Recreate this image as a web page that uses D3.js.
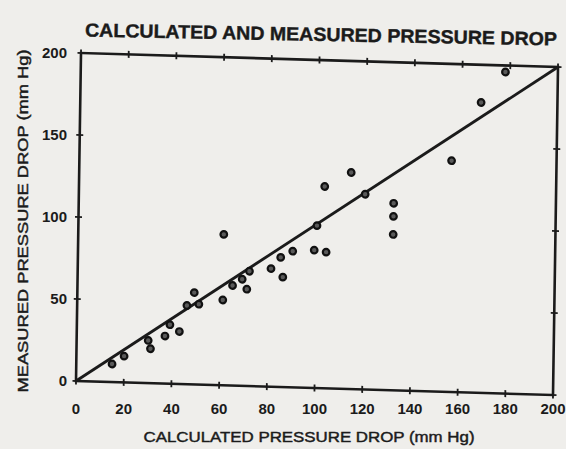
<!DOCTYPE html>
<html>
<head>
<meta charset="utf-8">
<script src="https://cdn.jsdelivr.net/npm/d3@7"></script>
<style>
  body { margin: 0; background: #efeeeb; }
  text { font-family: "Liberation Sans", Arial, sans-serif; fill: #1b1b1b; }
</style>
</head>
<body>
<div id="chart"></div>
<script>
// Calculated vs measured pressure drop (mm Hg)
const calculated = [178, 168, 114, 103, 156, 120, 132, 132, 132, 99, 104, 100, 61, 90, 85, 81, 86, 72, 69, 71, 65, 61, 49, 46, 51, 39, 43, 37, 30, 31, 20, 15];
const measured   = [196, 177, 132, 123, 141, 119, 114, 106, 95, 84, 83, 99, 92, 83, 79, 72, 67, 70, 65, 59, 61, 52, 56, 48, 49, 36, 32, 29, 26, 21, 16, 11];
const xTicks = [0, 20, 40, 60, 80, 100, 120, 140, 160, 180, 200];
const yTicks = [0, 50, 100, 150, 200];

const W = 566, H = 449;
const plotW = 477, plotH = 328;

// the scanned plot is slightly skewed: map inner plot coords to the page
const M = { a: 1, b: 0.02935, c: -0.01524, d: 1, e: 81, f: 53 };
const toPage = (u, v) => [M.e + M.a * u + M.c * v, M.f + M.b * u + M.d * v];

const svg = d3.select('#chart')
  .append('svg')
  .attr('width', W)
  .attr('height', H);

svg.append('rect')
  .attr('width', W)
  .attr('height', H)
  .attr('fill', '#efeeeb');

const x = d3.scaleLinear().domain([0, 200]).range([0, plotW]);
const y = d3.scaleLinear().domain([0, 200]).range([plotH, 0]);

const plot = svg.append('g')
  .attr('transform', `matrix(${M.a},${M.b},${M.c},${M.d},${M.e},${M.f})`);

// frame
plot.append('rect')
  .attr('x', 0)
  .attr('y', 0)
  .attr('width', plotW)
  .attr('height', plotH)
  .attr('fill', 'none')
  .attr('stroke', '#1b1b1b')
  .attr('stroke-width', 2.6);

// cross-shaped tick marks on all four sides
const tk = 3.5;
plot.selectAll('.xt-bottom')
  .data(xTicks)
  .enter()
  .append('line')
  .attr('x1', d => x(d)).attr('x2', d => x(d))
  .attr('y1', plotH - tk).attr('y2', plotH + tk);
plot.selectAll('.xt-top')
  .data(xTicks)
  .enter()
  .append('line')
  .attr('x1', d => x(d)).attr('x2', d => x(d))
  .attr('y1', -tk).attr('y2', tk);
plot.selectAll('.yt-left')
  .data(yTicks)
  .enter()
  .append('line')
  .attr('x1', -tk).attr('x2', tk)
  .attr('y1', d => y(d)).attr('y2', d => y(d));
plot.selectAll('.yt-right')
  .data(yTicks)
  .enter()
  .append('line')
  .attr('x1', plotW - tk).attr('x2', plotW + tk)
  .attr('y1', d => y(d)).attr('y2', d => y(d));
plot.selectAll('line')
  .attr('stroke', '#1b1b1b')
  .attr('stroke-width', 1.8);

// line of equality
plot.append('line')
  .attr('x1', x(0)).attr('y1', y(0))
  .attr('x2', x(200)).attr('y2', y(200))
  .attr('stroke', '#1b1b1b')
  .attr('stroke-width', 2.8);

// data points
plot.selectAll('.pt')
  .data(calculated.map((c, i) => ({ c, m: measured[i] })))
  .enter()
  .append('circle')
  .attr('class', 'pt')
  .attr('cx', d => x(d.c))
  .attr('cy', d => y(d.m))
  .attr('r', 3.3)
  .attr('fill', '#5a5a5a')
  .attr('stroke', '#111')
  .attr('stroke-width', 2.2);

// tick labels (typed level on the page, not skewed)
svg.selectAll('.xl')
  .data(xTicks)
  .enter()
  .append('text')
  .attr('x', d => toPage(x(d), plotH)[0])
  .attr('y', 414)
  .attr('text-anchor', 'middle')
  .style('font-size', '15px')
  .style('font-weight', 'bold')
  .text(d => d);

svg.selectAll('.yl')
  .data(yTicks)
  .enter()
  .append('text')
  .attr('x', 67)
  .attr('y', d => toPage(0, y(d))[1] + 5)
  .attr('text-anchor', 'end')
  .style('font-size', '15px')
  .style('font-weight', 'bold')
  .text(d => d);

// titles
svg.append('text')
  .attr('x', 321)
  .attr('y', 41)
  .attr('text-anchor', 'middle')
  .attr('transform', 'rotate(1.1,321,35)')
  .attr('textLength', 472)
  .attr('lengthAdjust', 'spacingAndGlyphs')
  .style('font-size', '19px')
  .style('font-weight', 'bold')
  .style('stroke', '#1b1b1b')
  .style('stroke-width', 0.4)
  .text('CALCULATED AND MEASURED PRESSURE DROP');

svg.append('text')
  .attr('x', 309)
  .attr('y', 442)
  .attr('text-anchor', 'middle')
  .attr('textLength', 331)
  .attr('lengthAdjust', 'spacingAndGlyphs')
  .style('font-size', '15px')
  .style('stroke', '#1b1b1b')
  .style('stroke-width', 0.45)
  .text('CALCULATED PRESSURE DROP (mm Hg)');

svg.append('text')
  .attr('transform', 'translate(28,221) rotate(-90)')
  .attr('text-anchor', 'middle')
  .attr('textLength', 343)
  .attr('lengthAdjust', 'spacingAndGlyphs')
  .style('font-size', '15px')
  .style('stroke', '#1b1b1b')
  .style('stroke-width', 0.45)
  .text('MEASURED PRESSURE DROP (mm Hg)');
</script>
</body>
</html>
